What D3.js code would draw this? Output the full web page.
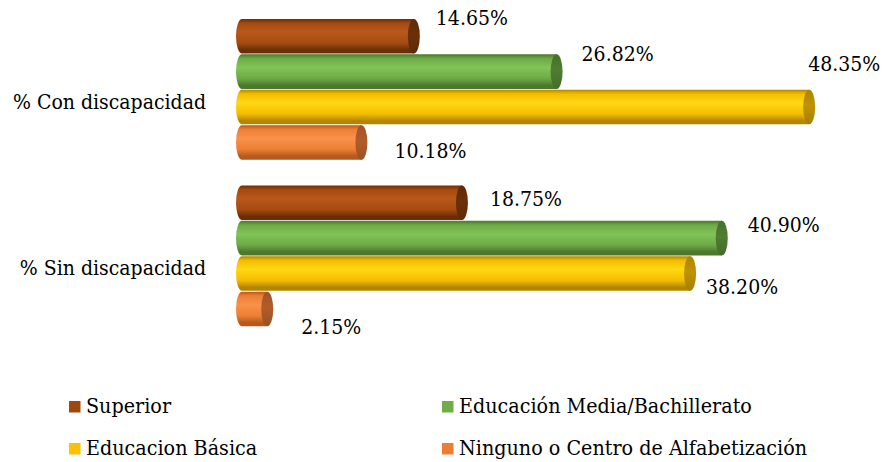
<!DOCTYPE html>
<html>
<head>
<meta charset="utf-8">
<script src="https://cdn.jsdelivr.net/npm/d3@7"></script>
<style>
  html, body { margin: 0; padding: 0; background: #fff; }
  svg text { font-stretch: condensed; }
</style>
</head>
<body>
<svg id="chart" width="883" height="462"></svg>
<script>
// Education level by disability condition (percent of population)
const categories = ["% Con discapacidad", "% Sin discapacidad"];
const seriesNames = ["Superior", "Educación Media/Bachillerato", "Educacion Básica", "Ninguno o Centro de Alfabetización"];
const superior = [14.65, 18.75];
const media = [26.82, 40.90];
const basica = [48.35, 38.20];
const ninguno = [10.18, 2.15];
const seriesValues = [superior, media, basica, ninguno];

// Cylinder shading per series: [edge, body, highlight, end cap]
const shades = [
  ["#6a2d07", "#a54a10", "#b9581b", "#6b3008"],
  ["#4b782d", "#6daa45", "#82c458", "#4f7d31"],
  ["#b38600", "#f3bd00", "#ffd813", "#c09300"],
  ["#b4591f", "#ee7e33", "#f9924b", "#b25c2a"]
];
const legendColors = ["#9e480e", "#70ad47", "#ffc000", "#ed7d31"];

// Label placement relative to each bar's end (dx, dy), by category then series
const labelOffsets = [
  [[16, -19], [19, -19], [-7, -44], [27, 8]],
  [[22, -5], [20, -14], [10, 12.5], [28, 17]]
];

const svg = d3.select("#chart");
const fontSize = 21;
const fontFamily = "'DejaVu Serif Condensed', 'DejaVu Serif', serif";

const x = d3.scaleLinear().domain([0, 50]).range([242, 828.5]);
const y = d3.scaleBand().domain(categories).range([6.5, 339.5])
  .paddingInner(0.15).paddingOuter(0.075);
const ySub = d3.scaleBand().domain(d3.range(seriesNames.length)).range([0, y.bandwidth()]);

const defs = svg.append("defs");
shades.forEach((s, i) => {
  const g = defs.append("linearGradient")
    .attr("id", "cyl" + i).attr("x1", 0).attr("y1", 0).attr("x2", 0).attr("y2", 1);
  [[0, s[0]], [0.12, s[1]], [0.38, s[2]], [0.7, s[1]], [0.9, s[0]], [1, s[0]]]
    .forEach(([o, c]) => g.append("stop").attr("offset", o).attr("stop-color", c));
  const c = defs.append("linearGradient")
    .attr("id", "cap" + i).attr("x1", 0).attr("y1", 0).attr("x2", 0).attr("y2", 1);
  [[0, d3.color(s[3]).darker(0.3)], [0.45, s[3]], [1, d3.color(s[3]).darker(0.4)]]
    .forEach(([o, col]) => c.append("stop").attr("offset", o).attr("stop-color", col));
});

const rx = 6;
const barH = ySub.bandwidth() - 0.8;

const bars = [];
categories.forEach((cat, ci) => {
  seriesValues.forEach((vals, si) => {
    bars.push({ cat, ci, si, value: vals[ci] });
  });
});

const bar = svg.append("g").selectAll("g.bar").data(bars).join("g").attr("class", "bar");

bar.append("path")
  .attr("fill", d => `url(#cyl${d.si})`)
  .attr("d", d => {
    const top = y(d.cat) + ySub(d.si);
    const bot = top + barH;
    const x0 = x(0), x1 = x(d.value);
    const ry = barH / 2;
    return `M${x0},${top} L${x1},${top} L${x1},${bot} L${x0},${bot} A${rx},${ry} 0 0 1 ${x0},${top} Z`;
  });

bar.append("ellipse")
  .attr("cx", d => x(d.value))
  .attr("cy", d => y(d.cat) + ySub(d.si) + barH / 2)
  .attr("rx", rx)
  .attr("ry", barH / 2)
  .attr("fill", d => `url(#cap${d.si})`);

// Value labels
svg.append("g").selectAll("text").data(bars).join("text")
  .attr("x", d => x(d.value) + rx + labelOffsets[d.ci][d.si][0])
  .attr("y", d => y(d.cat) + ySub(d.si) + barH / 2 + labelOffsets[d.ci][d.si][1] + 8)
  .attr("font-family", fontFamily)
  .attr("font-size", fontSize)
  .attr("fill", "#000")
  .text(d => d.value.toFixed(2) + "%");

// Category axis labels
svg.append("g").selectAll("text").data(categories).join("text")
  .attr("x", 206)
  .attr("y", d => y(d) + y.bandwidth() / 2 + 19)
  .attr("text-anchor", "end")
  .attr("font-family", fontFamily)
  .attr("font-size", fontSize)
  .attr("fill", "#000")
  .text(d => d);

// Legend: two columns, two rows
const legX = d3.scaleOrdinal().domain([0, 1]).range([69, 442]);
const legY = d3.scaleOrdinal().domain([0, 1]).range([413, 455]);
const leg = svg.append("g").selectAll("g").data(seriesNames).join("g")
  .attr("transform", (d, i) => `translate(${legX(i % 2)},${legY(Math.floor(i / 2))})`);
leg.append("rect").attr("x", 0).attr("y", -12).attr("width", 11.5).attr("height", 11.5)
  .attr("fill", (d, i) => legendColors[i]);
leg.append("text").attr("x", 17).attr("y", 0)
  .attr("font-family", fontFamily)
  .attr("font-size", 21.3).attr("fill", "#000").text(d => d);
</script>
</body>
</html>
